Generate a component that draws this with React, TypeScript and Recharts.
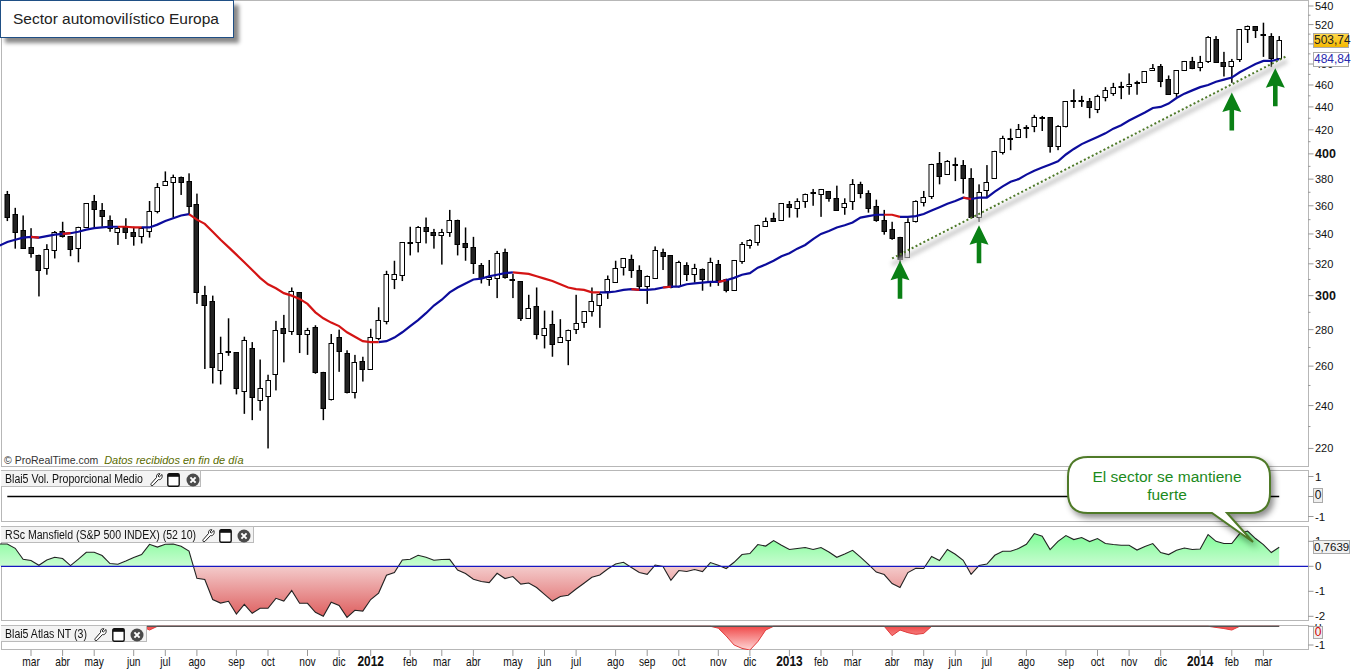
import React from "react";
import {
  ComposedChart, Bar, Line, Area, XAxis, YAxis, ReferenceDot, ReferenceLine,
} from "recharts";

const highs = [
  371,358.5,353,344,326,333,342,348.5,338.5,345,
  362,368,362,353,345,351,345,345,363.5,377,
  386,383.5,382,384.5,369,306,300,276,286.5,267.5,
  276,273,263.5,255.5,285,288.5,305,302,281,282.5,
  257,277.5,280,268.5,266,265,280.5,293,315.5,322,
  334.5,345,345.5,351.5,343.5,343.5,357,350,344.5,338,
  320.5,322.5,328.5,330,313.5,309,300.5,305,291,291,
  286,280,300.5,290.5,305,302,312.5,322,323.5,326,
  319,312.5,331.5,330,325.5,322,321,320,317,324,
  322.5,310.5,322.5,334.5,336.5,346.5,351.5,355,362,363.5,
  365.5,369,372.5,372.5,371,375,365.5,380,378,371.5,
  364.5,357,348.5,338,351,364,371,392,401.5,395,
  397,395,388.5,376,391,402.5,415,421,425,424,
  433,432,431,424,445,456,450,448,451,458,
  462,463,471,464,473,480,480,469,474,483,
  487,488,508,508,492,485,515,519,518,522,
  511,508,
];
const lows = [
  349,330,330,324,299.5,313,323.5,337.5,325,321,
  344.5,344.5,345,341.5,332.5,336.5,332,333.5,337.5,354.5,
  375,351.5,368,353.5,295,258.5,251,250.5,265.5,245.5,
  236,233,237.5,220,247.5,262,277,267,266,256,
  233,242.5,257,246,243.5,252,258.5,274,283,304,
  309,325.5,327.5,333.5,330,319.5,338,325.5,322,313.5,
  307.5,306,298.5,310.5,298.5,285,286.5,274.5,269.5,265,
  273,260.5,277.5,281,287.5,281,298,308.5,312.5,311,
  303,295,311,316,304.5,305,309,308,303,305.5,
  306,302,303.5,320,330,332,345,349,350,351.5,
  351.5,358.5,360,352,363,356.5,353.5,357,365.5,355,
  348.5,339.5,336,320,324,348,359.5,365,376,384,
  378.5,369,352,348.5,366,381,399.5,403,414,413,
  418,419,401,403,422,439,440,430,434.5,445,
  450,447,451,451,462,474,458,451,449,474,
  475,473,481,481,468,462,482,501,506,487,
  477,485,
];
const opens = [
  369,354,343,331,326,317.5,329,342,338.5,330,
  344.5,363.5,357,350,341.5,344.5,341,338.5,342,356.5,
  375.5,378,382,378.5,361,300.5,296.5,258,267.5,267.5,
  247,270,242.5,245,256,281,279.5,302,277.5,281.5,
  257,243,276,267,246.5,262.5,258.5,275.5,285,310.5,
  313,334.5,334.5,345,341.5,339.5,341.5,350,334,331,
  319,310.5,311,327.5,310,309,286.5,294,277,283,
  273,274.5,280.5,284,290.5,294.5,302.5,308.5,317.5,323,
  316,306,311,328,325.5,306,319,313,316.5,308.5,
  320,310,303.5,322,332.5,335,345.5,351,350,361,
  358.5,364,370,369,371,365.5,359,363,376,369.5,
  360,350,343.5,338,324.5,349,363,367,392.5,384,
  391.5,391,381,352.5,372,381,401.5,412,414,421,
  423,430,431,407,423,445,445,445,438.5,449,
  452,458,459,463,463,474,478,466,452,474,
  483,477,483,505,482,478,485,516,518,509,
  508,486,
];
const closes = [
  352,341.5,331,327,316,330,341.5,338.5,330,344.5,
  362,358,353,344.5,344,341,338.5,344,356.5,374,
  378.5,382,378.5,360,302,294.5,259.5,267,268,248.5,
  274,244.5,248.5,253,280,278,303,277.5,280,257,
  239,272.5,268,246.5,262,258.5,276,285.5,313.5,313.5,
  334.5,333.5,345,342,339.5,341.5,350,333.5,331,320.5,
  310.5,311.5,327,311,310.5,286.5,292.5,278,281,272,
  276,280,284,290.5,296.5,301,310,317.5,323.5,316,
  306,312.5,329,325.5,305,321,313,317,310,321,
  310,303,322.5,333,336,346.5,349,349,362,358.5,
  363.5,369,369,372.5,365.5,357,362,376,369.5,358.5,
  350,342,337,323,348.5,363.5,366.5,392,382.5,394,
  392,380.5,352,370.5,378,402.5,413,413,421,422,
  431,431,406,423.5,445,446,446,440,450,455,
  458,459,461,462,473,476,464,452,474,483,
  476,482,507,482,478,483,515,519,514,510,
  486,503.74,
];
const maBefore = 332;
const movingAvg = [
  334.5,336,337.5,338,337.5,338.5,339.5,340,340.5,341.5,
  343,344,344.5,345,345,345,344.5,344.5,344.5,346.5,
  349,351,353,354,350,347,341.5,336,331,326,
  321,316,311,307,304.5,301.5,300,298,295,290,
  286.5,284,282,278.5,276,273.5,273,273,273.5,275.5,
  278.5,282,285.5,289.5,294,297.5,302,305,307.5,310,
  310.5,312,313,314,314.5,314,313.5,312,310.5,309,
  307,305,304,303.5,302,302,302,302.5,303.5,304,
  303.5,303.5,304,305,305.5,305.5,307,307.5,308,308.5,
  308.5,309.5,311,313,314,317.5,319.5,322,325,327,
  330,332.5,336.5,340,342,344.5,346,348,351.5,352.5,
  353.5,353.5,353.5,352,352,352.5,354,356.5,359,361.5,
  363.5,366,365,366,366,370.5,374.5,378,380,383.5,
  386.5,389,391.5,394,399.5,404,408,411,414,417,
  421,424,428,431.5,435,439,440,443,448,452,
  455,458,460,463,465,467,472,476,480,483,
  483,484.84,
];
const fallingStretches = [[3,4],[7,8],[14,17],[23,47],[64,75],[79,80],[83,84],[90,91],[111,113],[121,122]];
const rsBefore = .89;
const mansfield = [
  .89,.72,.28,.23,.04,.25,.36,.31,.03,.29,
  .56,.56,.43,.11,.08,.21,.35,.47,.88,.77,
  .88,.89,.8,.61,-.48,-.53,-1.33,-1.47,-1.4,-1.91,
  -1.52,-1.88,-1.68,-1.68,-1.28,-1.39,-.97,-1.48,-1.48,-1.84,
  -2.0,-1.44,-1.57,-2.04,-1.76,-1.79,-1.33,-1.07,-.36,-.25,
  .25,.28,.44,.36,.24,.27,.28,-.15,-.29,-.52,
  -.61,-.65,-.28,-.49,-.41,-.71,-.67,-.85,-1.12,-1.39,
  -1.21,-1.16,-.91,-.68,-.44,-.35,-.11,.09,.16,-.05,
  -.25,-.32,.05,-.01,-.56,-.17,-.21,-.13,-.21,.15,
  .04,-.09,.16,.47,.51,.87,.81,1.03,.84,.67,
  .71,.75,.67,.75,.57,.36,.49,.64,.37,.08,
  -.23,-.33,-.69,-.85,-.25,-.08,-.09,.39,.23,.67,
  .48,.24,-.32,.03,.09,.44,.6,.6,.71,.88,
  1.31,1.2,.67,1.0,1.23,1.07,1.15,.99,1.11,.91,
  .87,.84,.84,.65,.79,.91,.55,.47,.64,.73,
  .67,.69,1.27,1.0,.91,.91,1.31,1.41,1.11,.87,
  .55,.7639,
];
const atlasIdx = [18,90,91,92,93,94,95,96,112,113,114,115,116,153,154,155];
const atlasVals = [-.2,-.1,-.52,-1.0,-1.18,-1.27,-.82,-.2,-.5,-.2,-.34,-.43,-.38,-.06,-.12,-.2];
const trendIdx = [112,162];
const trendVals = [323.5,488];
const trendShadowVals = [319.5,483];
const arrowIdx = [113,123,155,160];
const arrowTips = [322,346,453,476];

const priceTicks = [220,230,240,250,260,270,280,290,300,310,320,330,340,350,360,370,380,390,400,410,420,430,440,450,460,470,480,490,500,510,520,530,540];
const monthIdx = [3,7,11,16,20,24,29,33,38,42,46,51,55,59,64,68,72,77,81,85,90,94,99,103,107,112,116,120,124,129,134,138,142,146,151,155,159];
const monthLabels = ["mar","abr","may","jun","jul","ago","sep","oct","nov","dic","2012","feb","mar","abr","may","jun","jul","ago","sep","oct","nov","dic","2013","feb","mar","abr","may","jun","jul","ago","sep","oct","nov","dic","2014","feb","mar"];

const rows = Array.from({ length: 164 }, (_, k) => {
  const i = k - 1;
  const has = i >= 0 && i < highs.length;
  const falling = fallingStretches.some(([a, b]) => i >= a && i <= b);
  const strictlyFalling = fallingStretches.some(([a, b]) => i > a && i < b);
  const tIdx = trendIdx.indexOf(i);
  const aIdx = atlasIdx.indexOf(i);
  return {
    i,
    wick: has ? [lows[i], highs[i]] : null,
    body: has ? [Math.min(opens[i], closes[i]), Math.max(opens[i], closes[i])] : null,
    up: has ? closes[i] >= opens[i] : false,
    maRed: has && falling ? movingAvg[i] : null,
    maBlue: i === -1 ? maBefore : has && !strictlyFalling ? movingAvg[i] : null,
    trend: tIdx >= 0 ? trendVals[tIdx] : null,
    trendShadow: tIdx >= 0 ? trendShadowVals[tIdx] : null,
    rs: i === -1 ? rsBefore : has ? mansfield[i] : null,
    atlas: has ? (aIdx >= 0 ? atlasVals[aIdx] : 0) : null,
    zero: has ? 0 : null,
  };
});

const FONT = "'Liberation Sans', Arial, sans-serif";
const FRAME = "#b7b7b7";
const W = 1358;
const YW = 50;
const margin = { top: 0, right: 0, bottom: 0, left: 1 };
const xPad = { left: -5.55, right: 16.95 };
const xPadPoint = { left: -1.6, right: 20.9 };

const WickShape = (p: any) => {
  if (!p.payload?.wick || !isFinite(p.y) || !isFinite(p.height)) return null;
  const cx = p.x + p.width / 2;
  return <rect x={cx - 0.75} y={p.y} width={1.5} height={p.height} fill="#000" />;
};
const BodyShape = (p: any) => {
  if (!p.payload?.body || !isFinite(p.y) || !isFinite(p.height)) return null;
  const cx = Math.round(p.x + p.width / 2);
  return (
    <rect x={cx - 2} y={Math.round(p.y) + 0.5} width={4.5} height={Math.max(Math.round(p.height), 1)}
      fill={p.payload.up ? "#fff" : "#222"} stroke="#000" strokeWidth={1} />
  );
};

const PriceTick = (p: any) => {
  const v = p.payload.value;
  const major = v % 20 === 0;
  const bold = v === 300 || v === 400;
  return (
    <g>
      <line x1={p.x} x2={p.x + (major ? 5.5 : 2.5)} y1={p.y} y2={p.y} stroke="#999" />
      {major && (
        <text x={p.x + 7} y={p.y + 4} fontFamily={FONT} fontSize={bold ? 12.5 : 11}
          fontWeight={bold ? 700 : 400} fill="#111">{v}</text>
      )}
    </g>
  );
};
const SmallTick = (p: any) => (
  <g>
    <line x1={p.x} x2={p.x + 5.5} y1={p.y} y2={p.y} stroke="#999" />
    <text x={p.x + 7} y={p.y + 4} fontFamily={FONT} fontSize={11.5} fill="#111">{p.payload.value}</text>
  </g>
);
const MonthTick = (p: any) => {
  const label = monthLabels[monthIdx.indexOf(p.payload.value)];
  const bold = /^\d/.test(label);
  return (
    <g>
      <line x1={p.x} x2={p.x} y1={p.y} y2={p.y + 6} stroke="#999" />
      <text transform={`translate(${p.x} ${p.y + 16}) scale(0.85 1)`} textAnchor="middle" fontFamily={FONT}
        fontSize={bold ? 14 : 12} fontWeight={bold ? 700 : 400} fill="#111">{label}</text>
    </g>
  );
};

const Arrow = (p: any) => {
  const dx = p.dx || 0;
  const x = p.cx + dx;
  const y = p.cy;
  return (
    <path d={`M${x} ${y} L${x + 9.5} ${y + 19.5} L${x + 2.3} ${y + 17.5} L${x + 2.3} ${y + 38} L${x - 2.3} ${y + 38} L${x - 2.3} ${y + 17.5} L${x - 9.5} ${y + 19.5} Z`}
      fill="#0a8015" />
  );
};

const Icons = ({ x }: { x: number[] }) => (
  <>
    <svg style={{ position: "absolute", left: x[0], top: 2, width: 13, height: 14 }} viewBox="0 0 13 14">
      <path d="M12 1.5 L9.3 4 L8 3 L10 0.8 C7.8 .2 6 1.8 6.6 4.4 L1.2 10.6 C.2 12 1.6 13.4 2.9 12.4 L8.4 6.6 C11 7.2 12.8 4.6 12 1.5 Z" fill="#fff" stroke="#222" strokeWidth="1" />
    </svg>
    <svg style={{ position: "absolute", left: x[1], top: 2, width: 13, height: 14 }} viewBox="0 0 13 14">
      <rect x=".8" y=".8" width="11.4" height="12.4" rx="1.5" fill="#fff" stroke="#111" strokeWidth="1.4" />
      <rect x=".8" y=".8" width="11.4" height="3" fill="#111" />
    </svg>
    <svg style={{ position: "absolute", left: x[2], top: 2, width: 14, height: 14 }} viewBox="0 0 14 14">
      <circle cx="7" cy="7" r="6.5" fill="#4a4a4a" />
      <path d="M4.4 4.4 L9.6 9.6 M9.6 4.4 L4.4 9.6" stroke="#fff" strokeWidth="2" />
    </svg>
  </>
);

const PanelLabel = ({ top, width, text, icons }: { top: number; width: number; text: string; icons: number[] }) => (
  <div style={{ position: "absolute", left: 1, top, width, height: 17, background: "#f3f3f3", border: "1px solid #bbb", borderLeft: "none", boxSizing: "border-box", fontFamily: FONT, fontSize: 12, lineHeight: "16px", color: "#111", whiteSpace: "nowrap" }}>
    <span style={{ position: "absolute", left: 4, top: 0, transform: "scaleX(0.88)", transformOrigin: "left center" }}>{text}</span>
    <Icons x={icons} />
  </div>
);

const frame = (top: number, height: number): React.CSSProperties => ({
  position: "absolute", left: 1, top, width: 1307.5, height, boxSizing: "border-box",
  border: `1.5px solid ${FRAME}`, pointerEvents: "none",
});
const abs = (top: number): React.CSSProperties => ({ position: "absolute", left: 0, top });

const valueBox = (left: number, top: number, width: number, height: number, extra: React.CSSProperties): React.CSSProperties => ({
  position: "absolute", left, top, width, height, boxSizing: "border-box", border: "1px solid #aaa",
  fontFamily: FONT, fontSize: 12, lineHeight: `${height - 2}px`, textAlign: "center", whiteSpace: "nowrap", ...extra,
});

export default function App() {
  return (
    <div style={{ position: "fixed", left: 0, top: 0, width: W, height: 669, background: "#fff", overflow: "hidden" }}>
      <div style={frame(0, 466.5)} />
      <div style={frame(469.5, 52.5)} />
      <div style={frame(525.5, 95.5)} />
      <div style={frame(624.5, 25.5)} />

      <div style={abs(0)}>
        <ComposedChart width={W} height={466} data={rows} margin={margin}>
          <XAxis xAxisId="wick" dataKey="i" hide type="category" padding={xPad} />
          <XAxis xAxisId="body" dataKey="i" hide type="category" padding={xPad} />
          <YAxis orientation="right" width={YW} scale="log" domain={[212.3, 546.6]} allowDataOverflow
            ticks={priceTicks} interval={0} tick={PriceTick} tickLine={false} axisLine={false} tickSize={0} tickMargin={0} />
          <Line xAxisId="body" dataKey="trendShadow" connectNulls dot={false} stroke="#c6c6c6" strokeWidth={4}
            isAnimationActive={false} style={{ filter: "blur(2px)" }} />
          <Bar xAxisId="wick" dataKey="wick" barSize={2} shape={WickShape} isAnimationActive={false} />
          <Bar xAxisId="body" dataKey="body" barSize={5} shape={BodyShape} isAnimationActive={false} />
          <Line xAxisId="body" dataKey="maBlue" dot={false} stroke="#0c0c9c" strokeWidth={2.2} isAnimationActive={false} />
          <Line xAxisId="body" dataKey="maRed" dot={false} stroke="#d41414" strokeWidth={2.2} isAnimationActive={false} />
          <Line xAxisId="body" dataKey="trend" connectNulls dot={false} stroke="#4f7a2a" strokeWidth={2}
            strokeDasharray="2 2.4" isAnimationActive={false} />
          {arrowIdx.map((ix, k) => (
            <ReferenceDot key={k} xAxisId="body" x={ix} y={arrowTips[k]} ifOverflow="visible"
              shape={(p: any) => <Arrow {...p} dx={ix === 160 ? 4 : 0} />} />
          ))}
        </ComposedChart>
      </div>

      <div style={abs(469)}>
        <ComposedChart width={W} height={53} data={rows} margin={margin}>
          <XAxis dataKey="i" hide type="category" padding={xPadPoint} />
          <YAxis orientation="right" width={YW} domain={[-1.275, 1.375]} allowDataOverflow ticks={[-1, 0, 1]} interval={0}
            tick={SmallTick} tickLine={false} axisLine={false} tickSize={0} tickMargin={0} />
          <Line dataKey="zero" dot={false} stroke="#000" strokeWidth={1.4} isAnimationActive={false} />
        </ComposedChart>
      </div>

      <div style={abs(525)}>
        <ComposedChart width={W} height={96} data={rows} margin={margin}>
          <defs>
            <linearGradient id="rsFill" gradientUnits="userSpaceOnUse" x1="0" x2="0" y1="15" y2="91">
              <stop offset="0" stopColor="#8dfca2" />
              <stop offset="0.342" stopColor="#c9fcd1" />
              <stop offset="0.342" stopColor="#f4cccc" />
              <stop offset="1" stopColor="#de6161" />
            </linearGradient>
          </defs>
          <XAxis dataKey="i" hide type="category" padding={xPadPoint} />
          <YAxis orientation="right" width={YW} domain={[-2.188, 1.652]} allowDataOverflow ticks={[-2, -1, 0, 1]} interval={0}
            tick={SmallTick} tickLine={false} axisLine={false} tickSize={0} tickMargin={0} />
          <Area dataKey="rs" baseValue={0} fill="url(#rsFill)" fillOpacity={1} stroke="#222" strokeWidth={1.1}
            dot={false} isAnimationActive={false} />
          <ReferenceLine y={0} stroke="#1616c0" strokeWidth={1.2} />
        </ComposedChart>
      </div>

      <div style={abs(624)}>
        <ComposedChart width={W} height={45} data={rows} margin={margin}>
          <defs>
            <linearGradient id="atlasFill" x1="0" x2="0" y1="0" y2="1">
              <stop offset="0" stopColor="#f04a4a" />
              <stop offset="1" stopColor="#ffd6d6" />
            </linearGradient>
          </defs>
          <XAxis dataKey="i" type="category" padding={xPadPoint} height={19} ticks={monthIdx} interval={0}
            tick={MonthTick} tickLine={false} axisLine={false} tickSize={0} tickMargin={0} />
          <YAxis orientation="right" width={YW} domain={[-1.267, 0.123]} allowDataOverflow ticks={[-1, 0]} interval={0}
            tick={SmallTick} tickLine={false} axisLine={false} tickSize={0} tickMargin={0} />
          <Area dataKey="atlas" baseValue={0} fill="url(#atlasFill)" fillOpacity={1} stroke="#e03a3a" strokeWidth={1}
            dot={false} isAnimationActive={false} />
          <Line dataKey="zero" dot={false} stroke="#555" strokeWidth={1.2} isAnimationActive={false} />
        </ComposedChart>
      </div>

      <div style={{ position: "absolute", left: 0, top: 0, width: 234, height: 38, boxSizing: "border-box", background: "#fff", border: "1.5px solid #1f4f85", boxShadow: "5px 5px 4px #8a8a8a", fontFamily: FONT, fontSize: 15.5, lineHeight: "36px", paddingLeft: 12, color: "#222", whiteSpace: "nowrap" }}>
        Sector automovilístico Europa
      </div>
      <div style={{ position: "absolute", left: 4, top: 453, fontFamily: FONT, fontSize: 10.5, lineHeight: "14px", color: "#333", whiteSpace: "nowrap" }}>
        © ProRealTime.com&nbsp; <span style={{ fontStyle: "italic", fontSize: 11, color: "#5a6b00" }}>Datos recibidos en fin de día</span>
      </div>

      <PanelLabel top={470} width={200} text="Blai5 Vol. Proporcional Medio" icons={[149, 166, 185]} />
      <PanelLabel top={526} width={253} text="RSc Mansfield (S&P 500 INDEX) (52 10)" icons={[201, 218, 236]} />
      <PanelLabel top={625} width={146} text="Blai5 Atlas NT (3)" icons={[93, 111, 129]} />

      <div style={valueBox(1313, 33, 36, 15, { background: "linear-gradient(#ffd84a,#f4b800)", color: "#222" })}>503,74</div>
      <div style={valueBox(1313, 52, 36, 15, { background: "#fff", color: "#2a2ab0" })}>484,84</div>
      <div style={valueBox(1313, 488, 10, 15, { background: "#efefef", color: "#111" })}>0</div>
      <div style={valueBox(1313, 540, 37, 14, { background: "#f2f2f2", color: "#111", fontSize: 11.5 })}>0,7639</div>
      <div style={valueBox(1313, 626, 10, 13, { background: "#efefef", color: "#d00000" })}>0</div>

      <svg style={{ position: "absolute", left: 1050, top: 450, overflow: "visible" }} width={240} height={100}>
        <path d="M38 7 H200 Q220 7 220 27 V43 Q220 63 200 63 H177 L203 92 L162 63 H38 Q18 63 18 43 V27 Q18 7 38 7 Z"
          fill="#fff" stroke="#4f7a28" strokeWidth={2} style={{ filter: "drop-shadow(3px 4px 3px rgba(0,0,0,.45))" }} />
        <text x={117} y={32} textAnchor="middle" fontFamily={FONT} fontSize={15.5} fill="#1c8a1c">El sector se mantiene</text>
        <text x={117} y={50} textAnchor="middle" fontFamily={FONT} fontSize={15.5} fill="#1c8a1c">fuerte</text>
      </svg>
    </div>
  );
}
